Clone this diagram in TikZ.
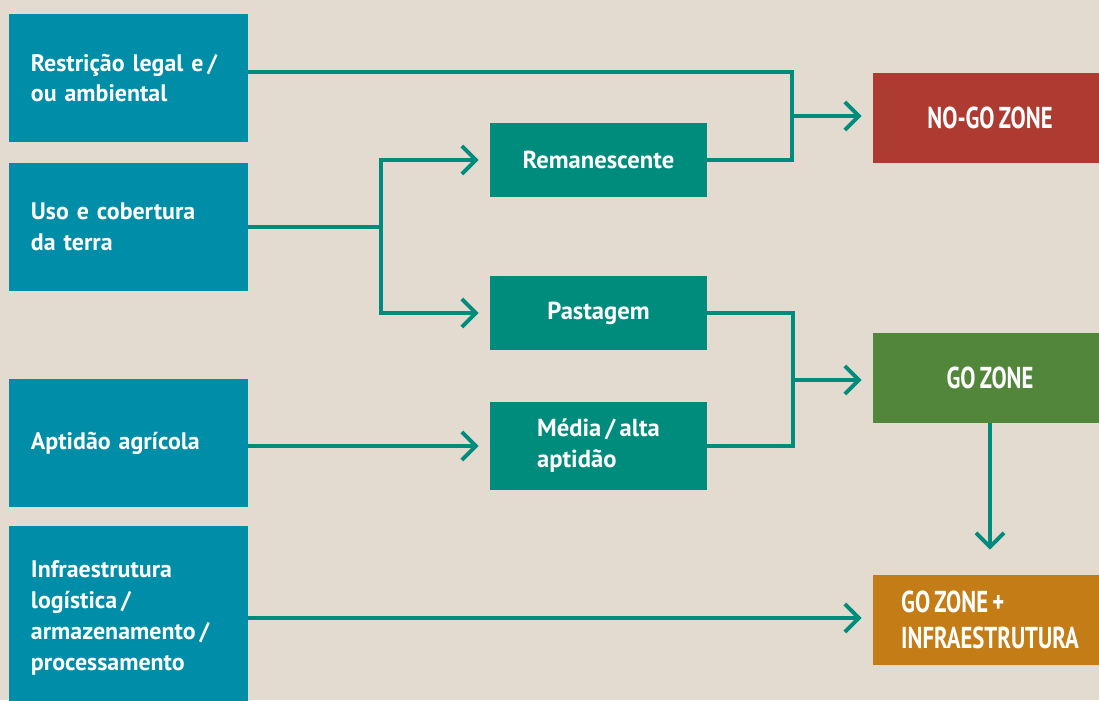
\documentclass[tikz,border=0pt]{standalone}
\usepackage{fontspec}
\setmainfont{PT Sans}
\newfontfamily\zonafonte[FakeStretch=0.75,WordSpace=0.75]{PT Sans}
\usetikzlibrary{arrows.meta}
\definecolor{fundo}{HTML}{E3DBCF}
\definecolor{azul}{HTML}{008DA8}
\definecolor{verdeagua}{HTML}{008C7D}
\definecolor{linha}{HTML}{008C7C}
\definecolor{vermelho}{HTML}{AE3B32}
\definecolor{verde}{HTML}{52863A}
\definecolor{laranja}{HTML}{C47C16}
\tikzset{entrada/.style={rectangle,fill=azul,text=white,font=\bfseries\fontsize{17}{22}\selectfont,minimum width=5.975cm,minimum height=3.2cm,text width=4.875cm,inner xsep=0.55cm,align=left},
         classe/.style={rectangle,fill=verdeagua,text=white,font=\bfseries\fontsize{17.5}{22}\selectfont,minimum width=5.425cm,minimum height=1.85cm,align=left},
         zona/.style={rectangle,text=white,font=\zonafonte\bfseries\fontsize{21.5}{26}\selectfont,minimum width=5.85cm,minimum height=2.25cm,align=center},
         liga/.style={draw=linha,line width=0.1cm},
         seta/.style={liga,-{Straight Barb[length=0.35cm,width=0.7cm]},shorten >=0.275cm},
            }

\begin{document}
\begin{tikzpicture}[x=0.025cm,y=-0.025cm]
	\fill[fundo] (0,0) rectangle (1099,700);
	\useasboundingbox (0,0) rectangle (1099,700);
	% entradas
	\node[entrada] (restr) at (128.5,78) {Restrição legal e\,/\\ou ambiental};
	\node[entrada] (uso) at (128.5,227) {Uso e cobertura\\da terra};
	\node[entrada] (apt) at (128.5,443) {Aptidão agrícola};
	\node[entrada,minimum height=4.6cm] (infra) at (128.5,618) {Infraestrutura\\logística\,/\\armazenamento\,/\\processamento};
	% classes
	\node[classe] (rem) at (598.5,160) {Remanescente};
	\node[classe] (past) at (598.5,313) {Pastagem};
	\node[classe,minimum height=2.2cm] (media) at (598.5,446) {Média\,/\,alta\\aptidão};
	% zonas
	\node[zona,fill=vermelho] (nogo) at (990,118) {NO-GO ZONE};
	\node[zona,fill=verde] (go) at (990,378) {GO ZONE};
	\node[zona,fill=laranja,align=left] (goinf) at (990,620) {GO ZONE +\\INFRAESTRUTURA};
	
	\coordinate (jn) at (792,116);
	\coordinate (ju) at (381,227);
	\coordinate (jg) at (793,380);
	
	\draw[liga] ([yshift=0.15cm]restr.east) -| (jn) |- (rem.east);
	\draw[seta] (jn) -- (jn -| nogo.west);
	\draw[liga] (uso.east) -- (ju);
	\draw[seta] (ju) |- (rem.west);
	\draw[seta] (ju) |- (past.west);
	\draw[liga] (past.east) -| (jg) |- (media.east);
	\draw[seta] (jg) -- (jg -| go.west);
	\draw[seta] (apt.east |- media.west) -- (media.west);
	\draw[seta] (infra.east) -- (infra.east -| goinf.west);
	\draw[seta,shorten >=0.625cm] (go.south) -- (goinf.north);
\end{tikzpicture}
\end{document}
